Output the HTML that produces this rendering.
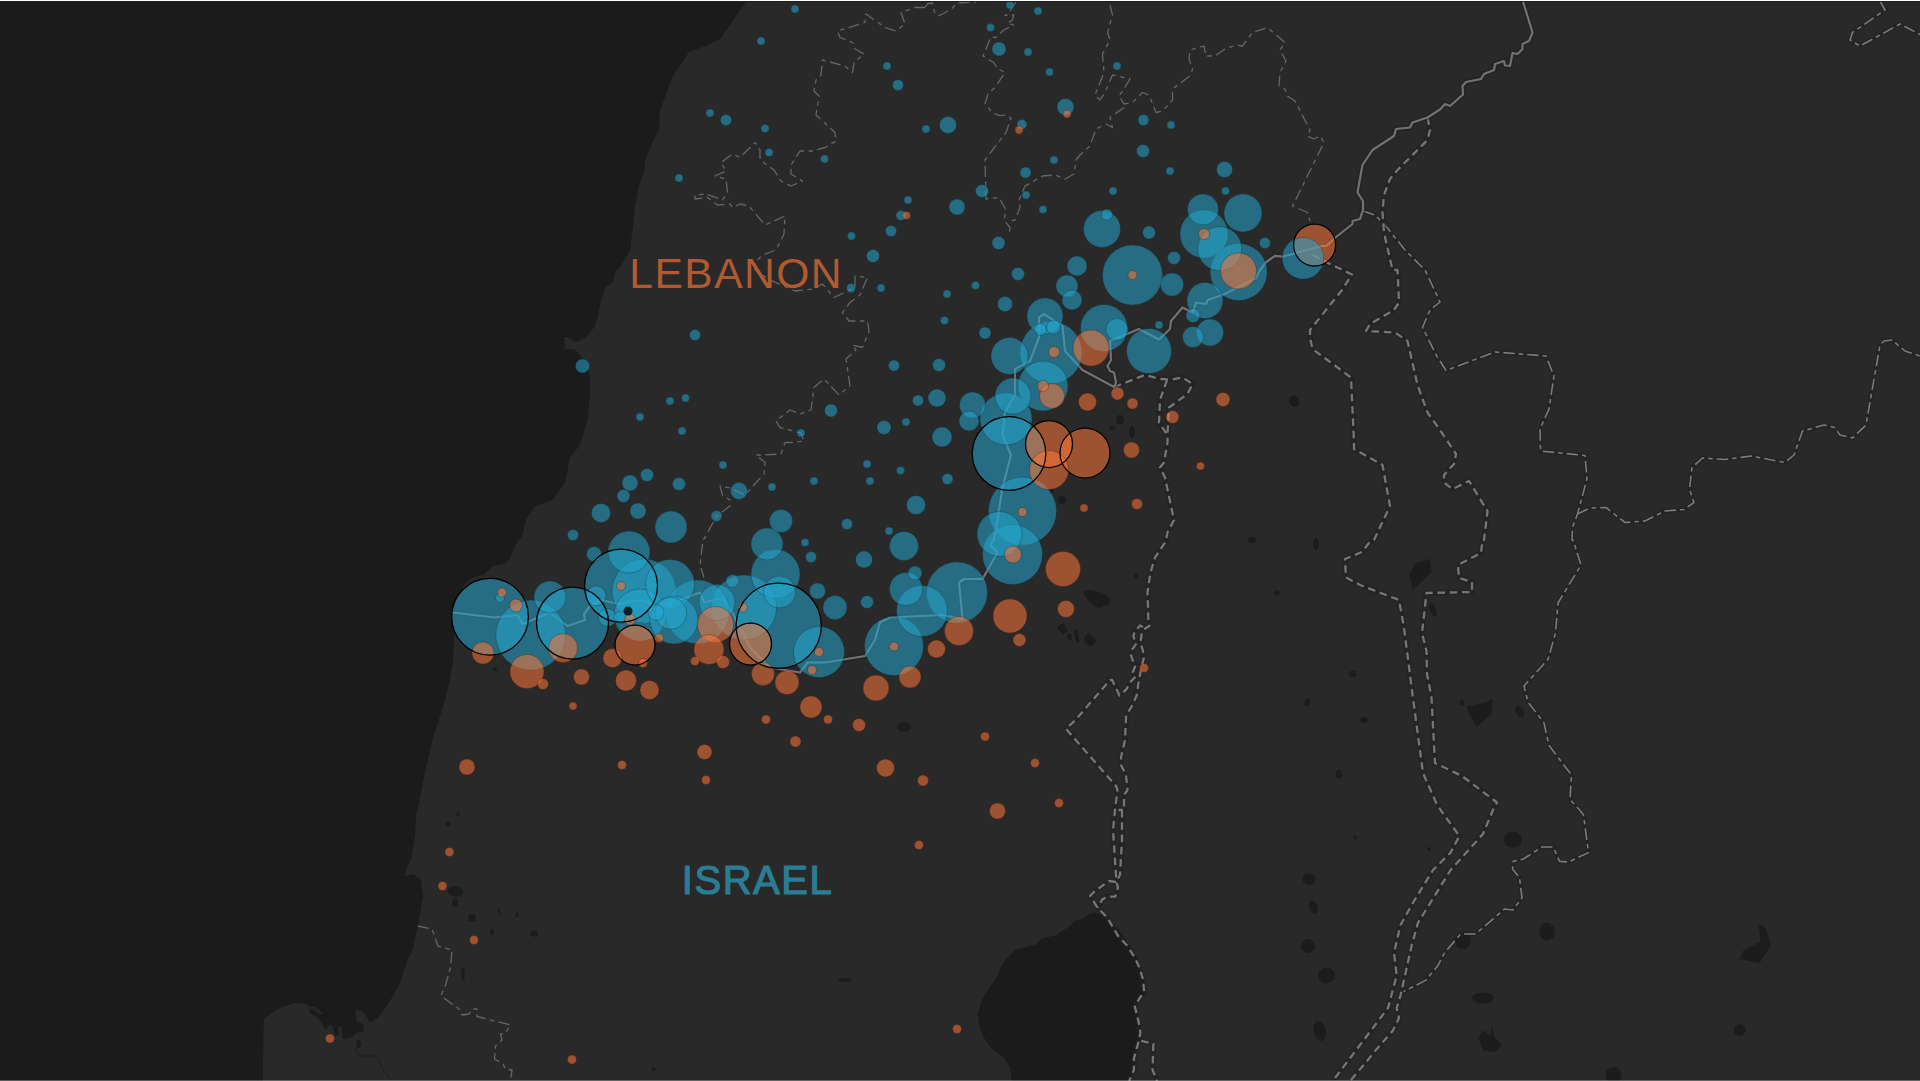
<!DOCTYPE html>
<html lang="en"><head><meta charset="utf-8"><title>Lebanon – Israel cross-border strikes map</title>
<style>html,body{margin:0;padding:0;background:#292929;overflow:hidden}body{width:1920px;height:1081px;position:relative}svg{display:block;position:absolute;left:0;top:0}
.lbl{font-family:"Liberation Sans",Arial,sans-serif;font-size:44px;font-weight:400;stroke-linejoin:round}
.cb{fill:#25a6cd;fill-opacity:.55;stroke:#0b2a33;stroke-opacity:.55;stroke-width:.6}
.co{fill:#fe773b;fill-opacity:.55;stroke:#3a1606;stroke-opacity:.55;stroke-width:.6}
.ck{fill:#0a2028}
.thin{fill:none;stroke:#666;stroke-width:1.3;stroke-dasharray:11 4.5 4.5 4.5;stroke-linejoin:round}
.thin2{fill:none;stroke:#7b7b7b;stroke-width:1.6;stroke-dasharray:11.5 4 4.5 4;stroke-linejoin:round}
.thk{fill:none;stroke:#767676;stroke-width:2.3;stroke-dasharray:7.5 4.8;stroke-linejoin:round}
.thkc{fill:none;stroke:#1f1f1f;stroke-width:5.5;stroke-linejoin:round;stroke-opacity:.5}
.bl{fill:none;stroke:#727272;stroke-width:2.2;stroke-linejoin:round;stroke-linecap:round}
.blc{fill:none;stroke:#1f1f1f;stroke-width:5.5;stroke-linejoin:round;stroke-opacity:.5}
</style></head><body>
<svg role="img" aria-label="Map of strikes across the Lebanon-Israel border" width="1920" height="1081" viewBox="0 0 1920 1081">
<rect width="1920" height="1081" fill="#292929"/>
<polygon fill="#1b1b1b" points="746,0 746,2 730,25 720,39 705,46 689,52 672.5,77 669,86 660,110 659,130 652.5,142 645,162 644,172 639,185 635,207 632.5,230 630,250 619,269 616,270 612.5,282.5 605,287.5 600,305 597,320 594,327.5 590,332.5 585.8,337.5 577.5,341.7 574,341.2 571.7,339 569,339 568.7,337 564,337 565,349 573.3,349 577.5,351.7 579.6,354.6 582,358 587,362 590,380 590,395 587.5,420 580,445 570,457.5 565,482.5 552.5,500 535,506 527,518 525.8,520 522.5,535 515,545 510,558 505,564 493,566 483,575 473,577.5 465,584 456.7,596.7 453,615 454,636.7 453,661.7 450,680 445,700 432.5,740 425,772.5 417.5,810 416.5,810 415,835 411.5,857.5 404,876 413,874 420.5,879 423,895 419,920 412.5,950 407.5,960 400,982.5 390,1001 378.7,1017.5 370,1022.5 362.5,1011 355,1010 357,1022 363,1024 364.5,1031 356,1033 352,1037.5 343,1039 341,1027 338,1026 339,1035 335,1036 333,1026 329.5,1025 326,1030 318,1018 309.5,1013 309,1009 314,1010 321,1015 322,1012.5 315,1007 310,1007 305,1003.7 296,1002.5 285,1006 276,1010 263.7,1018.7 263,1081 0,1081 0,0"/>
<polygon fill="#1b1b1b" points="1093.9,912.5 1088.3,914.4 1082.7,919 1073.4,921 1071.6,924.6 1056.7,934.9 1041.8,938.6 1036.3,944.2 1015.8,949.7 1005.6,960 1000,969.3 996.3,978.6 987.9,989.7 982.3,999 977.7,1013.9 979.5,1026.9 984.2,1038 991.6,1048.3 1004.6,1058.5 1010.2,1067.8 1012,1081 1128.3,1081 1133.9,1069.7 1133.9,1058.5 1139.5,1038 1140.4,1028.8 1138.5,1019.5 1134.8,1005.5 1141.3,999 1145,991.6 1143.2,976.7 1138.5,961.8 1133,950.7 1125.5,939.5 1118.1,929.3 1110.6,921.8 1101.3,915.3"/>
<g fill="#1c1c1c">
<ellipse cx="1294" cy="401" rx="5" ry="6" transform="rotate(-30 1294 401)"/>
<ellipse cx="1519.5" cy="711.5" rx="4" ry="6" transform="rotate(-30 1519.5 711.5)"/>
<ellipse cx="1462" cy="702.5" rx="2.5" ry="2.5" transform="rotate(0 1462 702.5)"/>
<ellipse cx="1433" cy="610" rx="3" ry="7" transform="rotate(-20 1433 610)"/>
<ellipse cx="1364" cy="720" rx="4" ry="3" transform="rotate(0 1364 720)"/>
<ellipse cx="904" cy="727" rx="7" ry="5" transform="rotate(0 904 727)"/>
<ellipse cx="1136" cy="576" rx="2" ry="2" transform="rotate(0 1136 576)"/>
<ellipse cx="1277" cy="593" rx="2.5" ry="2.5" transform="rotate(0 1277 593)"/>
<ellipse cx="1307.5" cy="702.5" rx="3" ry="4" transform="rotate(20 1307.5 702.5)"/>
<ellipse cx="1352.5" cy="674" rx="4" ry="3" transform="rotate(0 1352.5 674)"/>
<ellipse cx="1339" cy="774" rx="3.5" ry="4.5" transform="rotate(0 1339 774)"/>
<ellipse cx="1252" cy="540" rx="4" ry="3" transform="rotate(0 1252 540)"/>
<ellipse cx="1316" cy="544" rx="3" ry="6" transform="rotate(0 1316 544)"/>
<ellipse cx="455.5" cy="891.5" rx="8" ry="5" transform="rotate(10 455.5 891.5)"/>
<ellipse cx="455" cy="902.5" rx="3" ry="4" transform="rotate(0 455 902.5)"/>
<ellipse cx="472" cy="918" rx="4" ry="4" transform="rotate(0 472 918)"/>
<ellipse cx="534" cy="933.5" rx="4" ry="3" transform="rotate(20 534 933.5)"/>
<ellipse cx="492" cy="932" rx="2" ry="3" transform="rotate(0 492 932)"/>
<ellipse cx="463" cy="974" rx="1.8" ry="7" transform="rotate(0 463 974)"/>
<ellipse cx="517" cy="915" rx="1.5" ry="3" transform="rotate(0 517 915)"/>
<ellipse cx="499" cy="911" rx="1" ry="3" transform="rotate(0 499 911)"/>
<ellipse cx="448" cy="824" rx="2.5" ry="2" transform="rotate(0 448 824)"/>
<ellipse cx="458" cy="814" rx="1.5" ry="3" transform="rotate(20 458 814)"/>
<ellipse cx="653.5" cy="1069" rx="2" ry="2" transform="rotate(0 653.5 1069)"/>
<ellipse cx="844.5" cy="980" rx="7" ry="2" transform="rotate(0 844.5 980)"/>
<ellipse cx="1512.8" cy="839.6" rx="9" ry="8" transform="rotate(0 1512.8 839.6)"/>
<ellipse cx="1309" cy="879" rx="6.5" ry="6" transform="rotate(0 1309 879)"/>
<ellipse cx="1313.5" cy="907" rx="4" ry="7" transform="rotate(-20 1313.5 907)"/>
<ellipse cx="1308" cy="946" rx="7" ry="7" transform="rotate(0 1308 946)"/>
<ellipse cx="1326.6" cy="975.4" rx="8.5" ry="8" transform="rotate(0 1326.6 975.4)"/>
<ellipse cx="1319.8" cy="1031" rx="6" ry="10" transform="rotate(-15 1319.8 1031)"/>
<ellipse cx="1463" cy="941" rx="8" ry="8" transform="rotate(30 1463 941)"/>
<ellipse cx="1547" cy="931.5" rx="8" ry="9" transform="rotate(0 1547 931.5)"/>
<ellipse cx="1483" cy="998" rx="11" ry="5.5" transform="rotate(0 1483 998)"/>
<ellipse cx="1613.5" cy="1075" rx="8" ry="8" transform="rotate(0 1613.5 1075)"/>
<ellipse cx="1355.4" cy="837.6" rx="2" ry="2" transform="rotate(0 1355.4 837.6)"/>
<ellipse cx="1428.8" cy="849" rx="2" ry="2" transform="rotate(0 1428.8 849)"/>
<ellipse cx="1739.5" cy="1030" rx="6" ry="6" transform="rotate(0 1739.5 1030)"/>
<ellipse cx="1120" cy="420" rx="4" ry="5" transform="rotate(0 1120 420)"/>
<ellipse cx="1132" cy="432" rx="3" ry="6" transform="rotate(0 1132 432)"/>
<ellipse cx="1112" cy="428" rx="3" ry="2" transform="rotate(0 1112 428)"/>
<ellipse cx="1062" cy="500" rx="4" ry="4" transform="rotate(0 1062 500)"/>
<ellipse cx="1051" cy="491" rx="3" ry="3" transform="rotate(0 1051 491)"/>
<ellipse cx="495" cy="669.5" rx="2.5" ry="1.5" transform="rotate(0 495 669.5)"/>
<ellipse cx="359" cy="1044" rx="2" ry="4" transform="rotate(0 359 1044)"/>
<polygon points="1057.2,627.2 1063.3,622.2 1067.8,632.2 1062.8,633.9 1058.3,630"/>
<polygon points="1067.2,634.4 1071.7,633.9 1071.7,640 1068.3,640.5"/>
<polygon points="1073.3,630.5 1076.7,628.9 1078.3,633.3 1079.4,642.2 1077.2,643.3 1075,638.9"/>
<polygon points="1084.4,636.7 1088.9,632.8 1097.2,641.1 1090.5,646.7 1084.4,642.2"/>
<polygon points="1083,591 1090,590 1100,592 1108,596 1111,602 1106.7,605.5 1098.9,608.3 1093.3,606.1 1088,600 1085,596"/>
<polygon points="1430,559 1431.5,572 1422.7,580.8 1412.5,589.6 1409.6,575 1415.4,563.3"/>
<polygon points="1492.7,699 1491.3,715 1476.7,726.7 1469.4,715 1466.5,706.3 1482.5,703.3"/>
<polygon points="1758.3,924 1765.8,927.8 1770.8,945.3 1759.5,962.9 1739.5,959 1743.3,950.4 1760.8,941.6"/>
<polygon points="1482,1030.5 1490.7,1035.6 1492,1025.5 1494.5,1036.8 1502,1044.3 1495.7,1051.9 1483.2,1050.6 1478.7,1039.3"/>
</g>
<polyline fill="none" stroke="#1e1e1e" stroke-width="1" points="357,1040 356,1050 360,1056 375,1056 380,1062 383,1070 390,1078"/>
<g class="thin">
<polyline points="925,7.5 927.5,3.75 932.5,3 934.4,11.9 938,16 943,13.75 952.5,8 957,3 965,2.5 976,2"/>
<polyline points="925,7.5 915,7.5 901,12.5 905,24 896,31 885,27.5 866,14 865,22.5 837.5,31 840,37.5 852.5,42.5 855,49 864,54 854,62.5 852.5,72.5 845,66 822.5,60 821,75 816,80 814,91 819,96 816,115 835,132.5 836,141 825,147.5 812.5,151 800,151 791,165 791,174 802.5,181 791,186 781,181 774,170 760,160 760,150 755,142.5 740,157.5 732.5,154 721,162.5 726,171 715,176 726,179 727.5,192.5 722.5,200 706,194 695,195 695,199 707.5,197.5 717.5,205 730,204 732.5,207.5 740,204 749,206 765,225 785,216 784,234 776,250 762.5,255 755,262.5 755,270 770,280 795,291 812.5,289 822.5,284 834,297.5 855,287.5 855,276 867.5,277.5 860,295 850,302.5 842.5,312.5 849,321 867.5,321 869,331 862.5,347.5 852.5,345 856,350 846,359 850,386 839,395 824,379 814,387.5 811,410 800,414 790,410 776,421 780,427.5 801,433 804,441 792.5,442.5 785,442.5 781,454 762.5,455 756,455 765,462.5 764,474 745,495 730,488 720,486 722.5,495 730,500 730,506 716.5,516 705,537.5 703,540 700,565 704,577.5"/>
<polyline points="1016,2 1010,11 1005,15.6 1013.7,15 1012.5,20 1007.5,23 1013.7,25 1003.7,30 996,37.5 991,37 983,56 993.7,62.5 997.5,68.7 1005,72.5 995,87.5 988,93.7 985,103.7 992.5,113 1000,115.6 1006,115 1011,118 1006,132.5 992.5,150 985,160 986,199 999,197.5 1006,210 1004,220 1010,227.5 1009,235"/>
<polyline points="1110,5 1112.5,15 1107.5,32.5 1110,40 1102.5,54 1104,72.5 1095,95 1100,100 1105,92.5 1112.5,75 1130,79 1122.5,91 1119,96 1124,104 1132.5,102.5 1142.5,92.5 1149,95 1156,112.5 1162.5,111 1172.5,100 1172.5,89 1191,75 1192.5,69 1189,59 1190,50 1204,46 1206,56 1215,56 1220,52.5 1225,49 1236,45 1242.5,46 1252.5,32.5 1267.5,27.5 1285,42.5 1280,50 1286,61 1280,72.5 1279,86 1285,89 1287.5,96 1295,101 1310,130 1307.5,136 1314,139 1320,136 1324,142.5 1292.5,206 1307.5,212.5 1310,221"/>
<polyline points="1124,107.5 1110,117.5 1112.5,127.5 1106,124 1096,129 1090,146 1080,155 1076,160 1074,174 1065,179 1055,175 1042.5,176 1025,186 1019,200 1020,207.5 1015,220 1010,221"/>
<polyline points="418,926 432,929 438,946 452,950 450.5,967.5 445.5,985 441,996 460.5,1010 462,1015 469,1014 472,1009 477,1009 477,1016.5 510.5,1025 505.5,1033 500.5,1034 502,1040 495.5,1046 494.5,1059 503,1064 505.5,1069 512,1070 510.5,1081"/>
</g>
<g fill="none" stroke="#1f1f1f" stroke-width="4.5" stroke-opacity=".4" stroke-linejoin="round">
<polyline points="1880,1 1885,10 1852.5,32.5 1850,40 1860,46 1900,24 1920,34.5"/>
<polyline points="1363,211 1375,215 1385,225 1405,250 1425,270 1440,302 1430,310 1422.5,327.5 1437.5,357.5 1441,362.5 1446,370.5 1495,352 1546,356 1554,376 1549,409 1540,429 1540.5,451 1585,455.5 1587,479 1577.5,514 1572.5,527.5 1572,540 1573,540 1581,565 1558,603 1555.5,633 1548,659.5 1524,686 1528,702 1544,723 1549,745.5 1571.5,775 1570,799.5 1579.7,810 1583.5,815 1588.5,852.6 1568.4,862 1559.6,861.4 1553.4,847 1542,847 1523.3,859 1513.3,861.4 1512.5,869 1519.5,877.7 1522,897.7 1513,910 1504.5,909 1475.7,934 1460.6,934 1444.4,953 1438,965.4 1425.6,980.4 1403,991.7"/>
<polyline points="1577.5,514 1590,508 1606,507.5 1625,522.5 1645,521 1665,511 1684,509.5 1694,502.5 1689.5,489 1692,467.5 1702.5,458 1725,459.5 1751,456 1785,462.5 1794,455 1802.5,431 1824,425 1834.5,427.5 1840,435 1852.5,438 1866,425 1880,345 1884,341 1892,340 1905,351 1920,356"/>
</g>
<g class="thin2">
<polyline points="1880,1 1885,10 1852.5,32.5 1850,40 1860,46 1900,24 1920,34.5"/>
<polyline points="1363,211 1375,215 1385,225 1405,250 1425,270 1440,302 1430,310 1422.5,327.5 1437.5,357.5 1441,362.5 1446,370.5 1495,352 1546,356 1554,376 1549,409 1540,429 1540.5,451 1585,455.5 1587,479 1577.5,514 1572.5,527.5 1572,540 1573,540 1581,565 1558,603 1555.5,633 1548,659.5 1524,686 1528,702 1544,723 1549,745.5 1571.5,775 1570,799.5 1579.7,810 1583.5,815 1588.5,852.6 1568.4,862 1559.6,861.4 1553.4,847 1542,847 1523.3,859 1513.3,861.4 1512.5,869 1519.5,877.7 1522,897.7 1513,910 1504.5,909 1475.7,934 1460.6,934 1444.4,953 1438,965.4 1425.6,980.4 1403,991.7"/>
<polyline points="1577.5,514 1590,508 1606,507.5 1625,522.5 1645,521 1665,511 1684,509.5 1694,502.5 1689.5,489 1692,467.5 1702.5,458 1725,459.5 1751,456 1785,462.5 1794,455 1802.5,431 1824,425 1834.5,427.5 1840,435 1852.5,438 1866,425 1880,345 1884,341 1892,340 1905,351 1920,356"/>
</g>
<g class="thkc">
<polyline points="1427.5,117.5 1430,130 1427.5,140 1397.5,170 1390,179 1384,195 1382.5,212.5 1384,232.5 1392.5,270 1397.5,270 1399,302.5 1394,310 1370,324 1366,331 1395,332.5 1407.5,341 1417.5,385 1427.5,412.5 1440,430 1456,454 1454,464 1444,475 1444,482.5 1452.5,489 1469,481 1487.5,511 1484,540 1482.5,540 1481,553 1458,565 1459,578 1472,582 1472,592 1426.5,593 1422,633 1426.5,651 1427,674 1431.5,697.5 1435,763 1462,776 1497,802.5 1493,810 1483,834 1450.6,870 1418,922.8 1411.8,945 1400.5,995.5 1396.7,1008 1399,1018 1393,1030.5 1375.4,1050.6 1365.4,1063 1350,1081"/>
<polyline points="1313,255 1328,263 1352,274.5 1342,290 1310,330 1310,337.5 1312.5,349 1351,377.5 1354,442.5 1354,449 1382.5,465 1390,506 1374,540 1369,543 1362,552 1345,559 1346,577.5 1360,585 1399,600 1404,627.5 1412.5,694.5 1423,773 1436,802.5 1440.6,810 1459.4,836 1450.6,852.6 1433,870 1413,902.7 1400.5,925 1394,953 1396.7,975.4 1388,1008 1335,1078 1331.5,1081"/>
<polyline points="1114,387 1145,375 1160,379 1172.5,379.5 1182.5,377.5 1192.5,384 1187.5,394 1169,407.5 1167.5,434"/>
<polyline points="1167,380 1160,400 1159,422.5 1167.5,435 1167.5,442.5 1164,462.5 1160,467.5 1165,477.5 1174,520 1167.5,532.5 1166,540 1165,542.5 1155,557.5 1150.5,572.5 1147.5,592.5 1147.8,600 1148.3,619 1149.4,626 1145.5,628.3 1141.7,633.3 1140.5,643.3 1142.8,650 1143.9,657.8 1141.7,666.7 1138.9,680 1136.7,695.5 1132.2,705.5 1126.1,715.5 1125,740 1121,757.5 1121,765 1126,775 1127.5,790 1124,795 1124,810 1118.5,810"/>
<polyline points="1143,627 1140,625.5 1134.4,632.2 1133.3,636.7 1136.7,643.3 1132.2,649.4 1131.1,655.5 1133.3,662.2 1135.5,665.5 1132.8,672.2 1135.5,676.7 1130,682.2 1126.7,688.9 1122.8,692.8 1119.4,695.5 1112.2,680 1110,680 1075.5,720 1066,729 1116,786 1117.5,790 1115,810 1113,830 1116,875 1116.2,881.9 1108.8,881 1093.9,892 1090.2,895.8 1097.6,907.9 1107,917.2 1118,935.8 1127.4,946 1133.9,956.2 1139.5,967.4 1143.2,980.4 1144.1,991.6 1138.5,1000 1134.8,1006.5 1138.5,1021.3 1140.4,1032.5 1138.5,1041.8 1133.9,1058.5 1133.9,1069.7 1129.2,1081"/>
<polyline points="1122,810 1122,840 1120,875 1116.2,881.9 1118,887.4 1115.3,896.7 1107,896.7 1102.3,899.5 1097.6,907.9"/>
<polyline points="1141.3,1040.9 1153.4,1043.7 1152.5,1069.7 1157.1,1081"/>
</g>
<g class="thk">
<polyline points="1427.5,117.5 1430,130 1427.5,140 1397.5,170 1390,179 1384,195 1382.5,212.5 1384,232.5 1392.5,270 1397.5,270 1399,302.5 1394,310 1370,324 1366,331 1395,332.5 1407.5,341 1417.5,385 1427.5,412.5 1440,430 1456,454 1454,464 1444,475 1444,482.5 1452.5,489 1469,481 1487.5,511 1484,540 1482.5,540 1481,553 1458,565 1459,578 1472,582 1472,592 1426.5,593 1422,633 1426.5,651 1427,674 1431.5,697.5 1435,763 1462,776 1497,802.5 1493,810 1483,834 1450.6,870 1418,922.8 1411.8,945 1400.5,995.5 1396.7,1008 1399,1018 1393,1030.5 1375.4,1050.6 1365.4,1063 1350,1081"/>
<polyline points="1313,255 1328,263 1352,274.5 1342,290 1310,330 1310,337.5 1312.5,349 1351,377.5 1354,442.5 1354,449 1382.5,465 1390,506 1374,540 1369,543 1362,552 1345,559 1346,577.5 1360,585 1399,600 1404,627.5 1412.5,694.5 1423,773 1436,802.5 1440.6,810 1459.4,836 1450.6,852.6 1433,870 1413,902.7 1400.5,925 1394,953 1396.7,975.4 1388,1008 1335,1078 1331.5,1081"/>
<polyline points="1114,387 1145,375 1160,379 1172.5,379.5 1182.5,377.5 1192.5,384 1187.5,394 1169,407.5 1167.5,434"/>
<polyline points="1167,380 1160,400 1159,422.5 1167.5,435 1167.5,442.5 1164,462.5 1160,467.5 1165,477.5 1174,520 1167.5,532.5 1166,540 1165,542.5 1155,557.5 1150.5,572.5 1147.5,592.5 1147.8,600 1148.3,619 1149.4,626 1145.5,628.3 1141.7,633.3 1140.5,643.3 1142.8,650 1143.9,657.8 1141.7,666.7 1138.9,680 1136.7,695.5 1132.2,705.5 1126.1,715.5 1125,740 1121,757.5 1121,765 1126,775 1127.5,790 1124,795 1124,810 1118.5,810"/>
<polyline points="1143,627 1140,625.5 1134.4,632.2 1133.3,636.7 1136.7,643.3 1132.2,649.4 1131.1,655.5 1133.3,662.2 1135.5,665.5 1132.8,672.2 1135.5,676.7 1130,682.2 1126.7,688.9 1122.8,692.8 1119.4,695.5 1112.2,680 1110,680 1075.5,720 1066,729 1116,786 1117.5,790 1115,810 1113,830 1116,875 1116.2,881.9 1108.8,881 1093.9,892 1090.2,895.8 1097.6,907.9 1107,917.2 1118,935.8 1127.4,946 1133.9,956.2 1139.5,967.4 1143.2,980.4 1144.1,991.6 1138.5,1000 1134.8,1006.5 1138.5,1021.3 1140.4,1032.5 1138.5,1041.8 1133.9,1058.5 1133.9,1069.7 1129.2,1081"/>
<polyline points="1122,810 1122,840 1120,875 1116.2,881.9 1118,887.4 1115.3,896.7 1107,896.7 1102.3,899.5 1097.6,907.9"/>
<polyline points="1141.3,1040.9 1153.4,1043.7 1152.5,1069.7 1157.1,1081"/>
</g>
<polyline class="blc" points="1522.5,0 1532.5,32.5 1529,41 1522.5,44 1522.5,49 1517.5,54 1512.5,53 1510,66 1505,65.5 1504,61 1495,64 1494,70 1484,74 1481,79 1466,82 1462.5,86 1463,94.5 1450,106 1445,104 1440,109.5 1427.5,117.5 1412.5,122.5 1410,127.5 1396,129 1394,136 1372.5,150 1362.5,165 1357.5,192.5 1363,201 1363,210 1360,219 1352.5,221 1352.5,224 1335.4,237.5 1326.7,245.8 1321.7,246 1306.7,250 1282.5,256.7 1275,255.8 1265.8,262.5 1260,270 1256,278 1222.5,295 1207.5,300 1206,304 1196,302.5 1192.5,312.5 1182.5,307.5 1171,321 1170,329 1159,339.5 1139,329 1110,341 1111,360 1107.5,366 1110,371 1114,372.5 1116,382.5 1114,387 1082.5,370 1065,351 1062.5,326 1044,314 1039,317.5 1039,337.5 1030,361 1015,369 1015,395 1005,412.5 1002.5,435 1011,455 1002.5,487.5 997.5,520 994,540 990,545 997.5,552.5 982.5,579 964,579 959,582.5 962.5,619 942.5,615 890,617.5 880,622.5 875,640 865,656 825,662.5 807.5,662.5 800,672.5 770,667.5 750,647.5 740,628 732.5,612.5 722.5,597.5 704,602.5 700,592.5 685,598 660,606 640,600 620,604 600,600 590,606 584,614 585,620 567.5,626 550,612.5 522.5,624 517.5,615 495,617.5 452,612.5"/>
<polyline class="bl" points="1522.5,0 1532.5,32.5 1529,41 1522.5,44 1522.5,49 1517.5,54 1512.5,53 1510,66 1505,65.5 1504,61 1495,64 1494,70 1484,74 1481,79 1466,82 1462.5,86 1463,94.5 1450,106 1445,104 1440,109.5 1427.5,117.5 1412.5,122.5 1410,127.5 1396,129 1394,136 1372.5,150 1362.5,165 1357.5,192.5 1363,201 1363,210 1360,219 1352.5,221 1352.5,224 1335.4,237.5 1326.7,245.8 1321.7,246 1306.7,250 1282.5,256.7 1275,255.8 1265.8,262.5 1260,270 1256,278 1222.5,295 1207.5,300 1206,304 1196,302.5 1192.5,312.5 1182.5,307.5 1171,321 1170,329 1159,339.5 1139,329 1110,341 1111,360 1107.5,366 1110,371 1114,372.5 1116,382.5 1114,387 1082.5,370 1065,351 1062.5,326 1044,314 1039,317.5 1039,337.5 1030,361 1015,369 1015,395 1005,412.5 1002.5,435 1011,455 1002.5,487.5 997.5,520 994,540 990,545 997.5,552.5 982.5,579 964,579 959,582.5 962.5,619 942.5,615 890,617.5 880,622.5 875,640 865,656 825,662.5 807.5,662.5 800,672.5 770,667.5 750,647.5 740,628 732.5,612.5 722.5,597.5 704,602.5 700,592.5 685,598 660,606 640,600 620,604 600,600 590,606 584,614 585,620 567.5,626 550,612.5 522.5,624 517.5,615 495,617.5 452,612.5"/>
<g>
<circle class="cb" cx="778.7" cy="625.7" r="42.6"/>
<circle class="cb" cx="490" cy="616.7" r="38.4"/>
<circle class="cb" cx="1009" cy="453.5" r="36.8"/>
<circle class="cb" cx="621" cy="585.7" r="36.5"/>
<circle class="cb" cx="572.5" cy="623" r="36"/>
<circle class="cb" cx="530.8" cy="635" r="35"/>
<circle class="cb" cx="1022.5" cy="511" r="34"/>
<circle class="cb" cx="744" cy="607.5" r="32.5"/>
<circle class="cb" cx="644" cy="591" r="32"/>
<circle class="cb" cx="697.5" cy="612" r="32"/>
<circle class="cb" cx="1051" cy="352.5" r="31"/>
<circle class="cb" cx="957" cy="592.5" r="30.5"/>
<circle class="cb" cx="1132.5" cy="275" r="30"/>
<circle class="cb" cx="1012.5" cy="554.5" r="30"/>
<circle class="cb" cx="894" cy="646" r="29.5"/>
<circle class="cb" cx="1238.7" cy="272" r="28.5"/>
<circle class="cb" cx="1006" cy="419" r="26"/>
<circle class="cb" cx="640" cy="615" r="26"/>
<circle class="cb" cx="819" cy="652" r="25.5"/>
<circle class="cb" cx="922" cy="611" r="25.5"/>
<circle class="cb" cx="1043" cy="386" r="25"/>
<circle class="cb" cx="670" cy="584" r="24.5"/>
<circle class="cb" cx="775.5" cy="574" r="24.5"/>
<circle class="cb" cx="1204" cy="234" r="24"/>
<circle class="cb" cx="674" cy="620" r="24"/>
<circle class="cb" cx="1104" cy="328" r="23.5"/>
<circle class="cb" cx="1149" cy="351" r="22.5"/>
<circle class="cb" cx="999.5" cy="534" r="22.5"/>
<circle class="cb" cx="1219.7" cy="248.7" r="22"/>
<circle class="cb" cx="629" cy="552" r="21"/>
<circle class="cb" cx="1243" cy="213" r="19"/>
<circle class="cb" cx="1102" cy="229" r="18.5"/>
<circle class="cb" cx="1009.5" cy="356" r="18.5"/>
<circle class="cb" cx="1205" cy="300.5" r="18"/>
<circle class="cb" cx="1045" cy="316" r="18"/>
<circle class="cb" cx="1013" cy="396" r="18"/>
<circle class="cb" cx="717" cy="602.5" r="18"/>
<circle class="cb" cx="906" cy="589" r="16.5"/>
<circle class="cb" cx="671" cy="527" r="16"/>
<circle class="cb" cx="550" cy="597" r="16"/>
<circle class="cb" cx="670.8" cy="613.3" r="16"/>
<circle class="cb" cx="767" cy="544" r="16"/>
<circle class="cb" cx="779.5" cy="592" r="16"/>
<circle class="cb" cx="1203" cy="209.5" r="15.5"/>
<circle class="cb" cx="904" cy="546" r="14.5"/>
<circle class="cb" cx="1210" cy="332.5" r="13.5"/>
<circle class="cb" cx="972.5" cy="405" r="13"/>
<circle class="cb" cx="835" cy="607.5" r="12"/>
<circle class="cb" cx="781" cy="521" r="11.5"/>
<circle class="cb" cx="1172" cy="284.5" r="11.5"/>
<circle class="cb" cx="1067" cy="286" r="11"/>
<circle class="cb" cx="1117" cy="329.5" r="11"/>
<circle class="cb" cx="1193" cy="337" r="10.5"/>
<circle class="cb" cx="1077" cy="266" r="10"/>
<circle class="cb" cx="942" cy="437" r="10"/>
<circle class="cb" cx="1072" cy="300" r="10"/>
<circle class="cb" cx="969" cy="421" r="10"/>
<circle class="cb" cx="596" cy="596" r="10"/>
<circle class="cb" cx="916" cy="505" r="9.5"/>
<circle class="cb" cx="601" cy="513" r="9.5"/>
<circle class="cb" cx="937" cy="398" r="9"/>
<circle class="cb" cx="607.5" cy="617.5" r="9"/>
<circle class="cb" cx="948" cy="125" r="8.5"/>
<circle class="cb" cx="1065.5" cy="107" r="8.5"/>
<circle class="cb" cx="739" cy="491" r="8.5"/>
<circle class="cb" cx="864" cy="559.5" r="8.5"/>
<circle class="cb" cx="957" cy="207" r="8"/>
<circle class="cb" cx="1224.5" cy="169.5" r="8"/>
<circle class="cb" cx="630" cy="483" r="8"/>
<circle class="cb" cx="638" cy="511" r="8"/>
<circle class="cb" cx="656" cy="612.5" r="8"/>
<circle class="cb" cx="817.5" cy="591" r="8"/>
<circle class="cb" cx="1005" cy="304" r="7.5"/>
<circle class="cb" cx="594" cy="554" r="7.5"/>
<circle class="cb" cx="999" cy="49" r="7"/>
<circle class="cb" cx="582.5" cy="366" r="7"/>
<circle class="cb" cx="884" cy="427.5" r="7"/>
<circle class="cb" cx="1193" cy="315.5" r="7"/>
<circle class="cb" cx="1053.5" cy="327" r="7"/>
<circle class="cb" cx="915" cy="573" r="7"/>
<circle class="cb" cx="873" cy="256" r="6.5"/>
<circle class="cb" cx="1143" cy="151" r="6.5"/>
<circle class="cb" cx="982" cy="191" r="6.5"/>
<circle class="cb" cx="1149" cy="232.5" r="6.5"/>
<circle class="cb" cx="998.5" cy="243" r="6.5"/>
<circle class="cb" cx="1174" cy="258" r="6.5"/>
<circle class="cb" cx="939" cy="365" r="6.5"/>
<circle class="cb" cx="831" cy="410.5" r="6.5"/>
<circle class="cb" cx="647" cy="475" r="6.5"/>
<circle class="cb" cx="679" cy="484" r="6.5"/>
<circle class="cb" cx="623.5" cy="496" r="6.5"/>
<circle class="cb" cx="1018" cy="274" r="6.5"/>
<circle class="cb" cx="732.5" cy="581" r="6.5"/>
<circle class="cb" cx="867" cy="602" r="6.5"/>
<circle class="cb" cx="1040.5" cy="329.5" r="6"/>
<circle class="cb" cx="985" cy="333" r="6"/>
<circle class="cb" cx="620" cy="617.5" r="6"/>
<circle class="cb" cx="898" cy="85" r="5.5"/>
<circle class="cb" cx="726" cy="120" r="5.5"/>
<circle class="cb" cx="891" cy="231" r="5.5"/>
<circle class="cb" cx="1143.5" cy="120" r="5.5"/>
<circle class="cb" cx="1025.5" cy="172.5" r="5.5"/>
<circle class="cb" cx="1107" cy="214.5" r="5.5"/>
<circle class="cb" cx="1265" cy="243" r="5.5"/>
<circle class="cb" cx="695" cy="335" r="5.5"/>
<circle class="cb" cx="894" cy="365.5" r="5.5"/>
<circle class="cb" cx="918" cy="400.5" r="5.5"/>
<circle class="cb" cx="947.5" cy="479" r="5.5"/>
<circle class="cb" cx="716.5" cy="516" r="5.5"/>
<circle class="cb" cx="847" cy="524" r="5.5"/>
<circle class="cb" cx="573" cy="535" r="5.5"/>
<circle class="cb" cx="811" cy="557" r="5.5"/>
<circle class="cb" cx="901" cy="215.5" r="5"/>
<circle class="cb" cx="1022" cy="124.5" r="5"/>
<circle class="cb" cx="851" cy="288" r="4.5"/>
<circle class="cb" cx="500" cy="598" r="4.5"/>
<circle class="cb" cx="795" cy="9" r="4"/>
<circle class="cb" cx="761" cy="41" r="4"/>
<circle class="cb" cx="887" cy="66" r="4"/>
<circle class="cb" cx="710" cy="113" r="4"/>
<circle class="cb" cx="765" cy="128.5" r="4"/>
<circle class="cb" cx="926" cy="129" r="4"/>
<circle class="cb" cx="769" cy="152.5" r="4"/>
<circle class="cb" cx="824.5" cy="159" r="4"/>
<circle class="cb" cx="679" cy="178" r="4"/>
<circle class="cb" cx="908" cy="200" r="4"/>
<circle class="cb" cx="851.5" cy="236" r="4"/>
<circle class="cb" cx="1010" cy="5" r="4"/>
<circle class="cb" cx="1038" cy="11" r="4"/>
<circle class="cb" cx="990.5" cy="27.5" r="4"/>
<circle class="cb" cx="1028" cy="52" r="4"/>
<circle class="cb" cx="1049.5" cy="72" r="4"/>
<circle class="cb" cx="1117" cy="66" r="4"/>
<circle class="cb" cx="1171" cy="125" r="4"/>
<circle class="cb" cx="1054" cy="160" r="4"/>
<circle class="cb" cx="1170" cy="171" r="4"/>
<circle class="cb" cx="1026" cy="195" r="4"/>
<circle class="cb" cx="1113" cy="191" r="4"/>
<circle class="cb" cx="1225.5" cy="191" r="4"/>
<circle class="cb" cx="1043" cy="209.5" r="4"/>
<circle class="cb" cx="881" cy="288" r="4"/>
<circle class="cb" cx="947" cy="294" r="4"/>
<circle class="cb" cx="944.5" cy="320.5" r="4"/>
<circle class="cb" cx="670" cy="401" r="4"/>
<circle class="cb" cx="685.5" cy="398" r="4"/>
<circle class="cb" cx="640" cy="417" r="4"/>
<circle class="cb" cx="906" cy="422" r="4"/>
<circle class="cb" cx="682" cy="431" r="4"/>
<circle class="cb" cx="801" cy="433" r="4"/>
<circle class="cb" cx="867" cy="464" r="4"/>
<circle class="cb" cx="723" cy="465" r="4"/>
<circle class="cb" cx="900.5" cy="470.5" r="4"/>
<circle class="cb" cx="814" cy="481" r="4"/>
<circle class="cb" cx="870" cy="481" r="4"/>
<circle class="cb" cx="772" cy="487" r="4"/>
<circle class="cb" cx="889" cy="531" r="4"/>
<circle class="cb" cx="975.5" cy="285.5" r="4"/>
<circle class="cb" cx="1159" cy="325" r="4"/>
<circle class="cb" cx="805" cy="542.5" r="4"/>
<circle class="co" cx="1085" cy="453" r="25"/>
<circle class="co" cx="1049" cy="444" r="23.5"/>
<circle class="co" cx="750.5" cy="644" r="21"/>
<circle class="co" cx="1314.6" cy="245" r="21"/>
<circle class="co" cx="635" cy="645" r="20"/>
<circle class="co" cx="1049" cy="470" r="19.5"/>
<circle class="co" cx="1238.5" cy="271" r="18"/>
<circle class="co" cx="1091" cy="348" r="18"/>
<circle class="co" cx="715.5" cy="624.5" r="18"/>
<circle class="co" cx="1063" cy="569" r="17.5"/>
<circle class="co" cx="527" cy="671.5" r="17"/>
<circle class="co" cx="1010" cy="616" r="17"/>
<circle class="co" cx="709" cy="649.5" r="15"/>
<circle class="co" cx="563" cy="648" r="14.5"/>
<circle class="co" cx="959" cy="631" r="14.5"/>
<circle class="co" cx="876" cy="688" r="13"/>
<circle class="co" cx="1052" cy="396" r="12.5"/>
<circle class="co" cx="787" cy="682.5" r="12"/>
<circle class="co" cx="763" cy="674" r="11.5"/>
<circle class="co" cx="483" cy="653" r="11"/>
<circle class="co" cx="811" cy="707" r="11"/>
<circle class="co" cx="910" cy="677" r="11"/>
<circle class="co" cx="626" cy="680.5" r="10.5"/>
<circle class="co" cx="612.5" cy="658" r="9.5"/>
<circle class="co" cx="649.5" cy="690" r="9.5"/>
<circle class="co" cx="1087.5" cy="402" r="9"/>
<circle class="co" cx="936.5" cy="649" r="9"/>
<circle class="co" cx="885.5" cy="768" r="9"/>
<circle class="co" cx="1013" cy="554.5" r="8.5"/>
<circle class="co" cx="1066" cy="609" r="8.5"/>
<circle class="co" cx="1131.5" cy="450" r="8"/>
<circle class="co" cx="581.5" cy="677" r="8"/>
<circle class="co" cx="467" cy="767" r="8"/>
<circle class="co" cx="997.5" cy="811" r="8"/>
<circle class="co" cx="704.5" cy="752" r="7.5"/>
<circle class="co" cx="1223" cy="399.5" r="7"/>
<circle class="co" cx="1117.5" cy="393.5" r="6.5"/>
<circle class="co" cx="1172.5" cy="417" r="6.5"/>
<circle class="co" cx="516" cy="605.5" r="6.5"/>
<circle class="co" cx="723" cy="662" r="6.5"/>
<circle class="co" cx="859" cy="725" r="6.5"/>
<circle class="co" cx="1019.5" cy="640" r="6.5"/>
<circle class="co" cx="1204" cy="234" r="5.5"/>
<circle class="co" cx="1054" cy="352" r="5.5"/>
<circle class="co" cx="1043" cy="386" r="5.5"/>
<circle class="co" cx="1132.5" cy="403.5" r="5.5"/>
<circle class="co" cx="1137" cy="504" r="5.5"/>
<circle class="co" cx="630" cy="619.5" r="5.5"/>
<circle class="co" cx="543" cy="684" r="5.5"/>
<circle class="co" cx="795.5" cy="741.5" r="5.5"/>
<circle class="co" cx="923" cy="780.5" r="5.5"/>
<circle class="co" cx="1132.5" cy="275" r="4.5"/>
<circle class="co" cx="1022.5" cy="512" r="4.5"/>
<circle class="co" cx="502" cy="592.5" r="4.5"/>
<circle class="co" cx="621" cy="586" r="4.5"/>
<circle class="co" cx="643" cy="663" r="4.5"/>
<circle class="co" cx="659" cy="638" r="4.5"/>
<circle class="co" cx="695" cy="661" r="4.5"/>
<circle class="co" cx="743" cy="607.5" r="4.5"/>
<circle class="co" cx="819" cy="652" r="4.5"/>
<circle class="co" cx="812" cy="670" r="4.5"/>
<circle class="co" cx="766" cy="719.5" r="4.5"/>
<circle class="co" cx="828" cy="719.5" r="4.5"/>
<circle class="co" cx="706" cy="780" r="4.5"/>
<circle class="co" cx="622" cy="765" r="4.5"/>
<circle class="co" cx="894" cy="646.5" r="4.5"/>
<circle class="co" cx="1144" cy="668" r="4.5"/>
<circle class="co" cx="985" cy="736.5" r="4.5"/>
<circle class="co" cx="1035" cy="763" r="4.5"/>
<circle class="co" cx="1059" cy="803" r="4.5"/>
<circle class="co" cx="449.5" cy="852" r="4.5"/>
<circle class="co" cx="442.5" cy="886" r="4.5"/>
<circle class="co" cx="474" cy="940" r="4.5"/>
<circle class="co" cx="330" cy="1038.5" r="4.5"/>
<circle class="co" cx="572" cy="1059.5" r="4.5"/>
<circle class="co" cx="919" cy="845" r="4.5"/>
<circle class="co" cx="957" cy="1029" r="4.5"/>
<circle class="co" cx="906.5" cy="215.5" r="4"/>
<circle class="co" cx="1067" cy="114" r="4"/>
<circle class="co" cx="1019" cy="130" r="4"/>
<circle class="co" cx="1200.5" cy="466" r="4"/>
<circle class="co" cx="1084" cy="508" r="4"/>
<circle class="co" cx="573" cy="706" r="4"/>
<circle class="cb" cx="1303" cy="258.3" r="20.8"/>
<circle class="ck" cx="628" cy="611" r="4.5"/>
</g>
<g fill="none" stroke="#000" stroke-width="1.25">
<circle cx="778.7" cy="625.7" r="42.6"/>
<circle cx="490" cy="616.7" r="38.4"/>
<circle cx="1009" cy="453.5" r="36.8"/>
<circle cx="621" cy="585.7" r="36.5"/>
<circle cx="572.5" cy="623" r="36"/>
<circle cx="1085" cy="453" r="25"/>
<circle cx="1049" cy="444" r="23.5"/>
<circle cx="750.5" cy="644" r="21"/>
<circle cx="1314.6" cy="245" r="21"/>
<circle cx="635" cy="645" r="20"/>
</g>
<text class="lbl" x="629.3" y="288" fill="#b15a31" style="font-size:42.6px" textLength="212.3" lengthAdjust="spacing">LEBANON</text>
<text class="lbl" x="681.8" y="894.4" fill="#2a7d94" stroke="#2a7d94" stroke-width="1.2" style="font-size:40px" textLength="150" lengthAdjust="spacing">ISRAEL</text>
<rect x="0" y="0" width="1920" height="1" fill="#fff"/>
<rect x="0" y="1" width="1920" height="1" fill="#1c1c1c"/>
<rect x="0" y="1080" width="1920" height="1" fill="#fff" fill-opacity=".28"/>
</svg></body></html>
